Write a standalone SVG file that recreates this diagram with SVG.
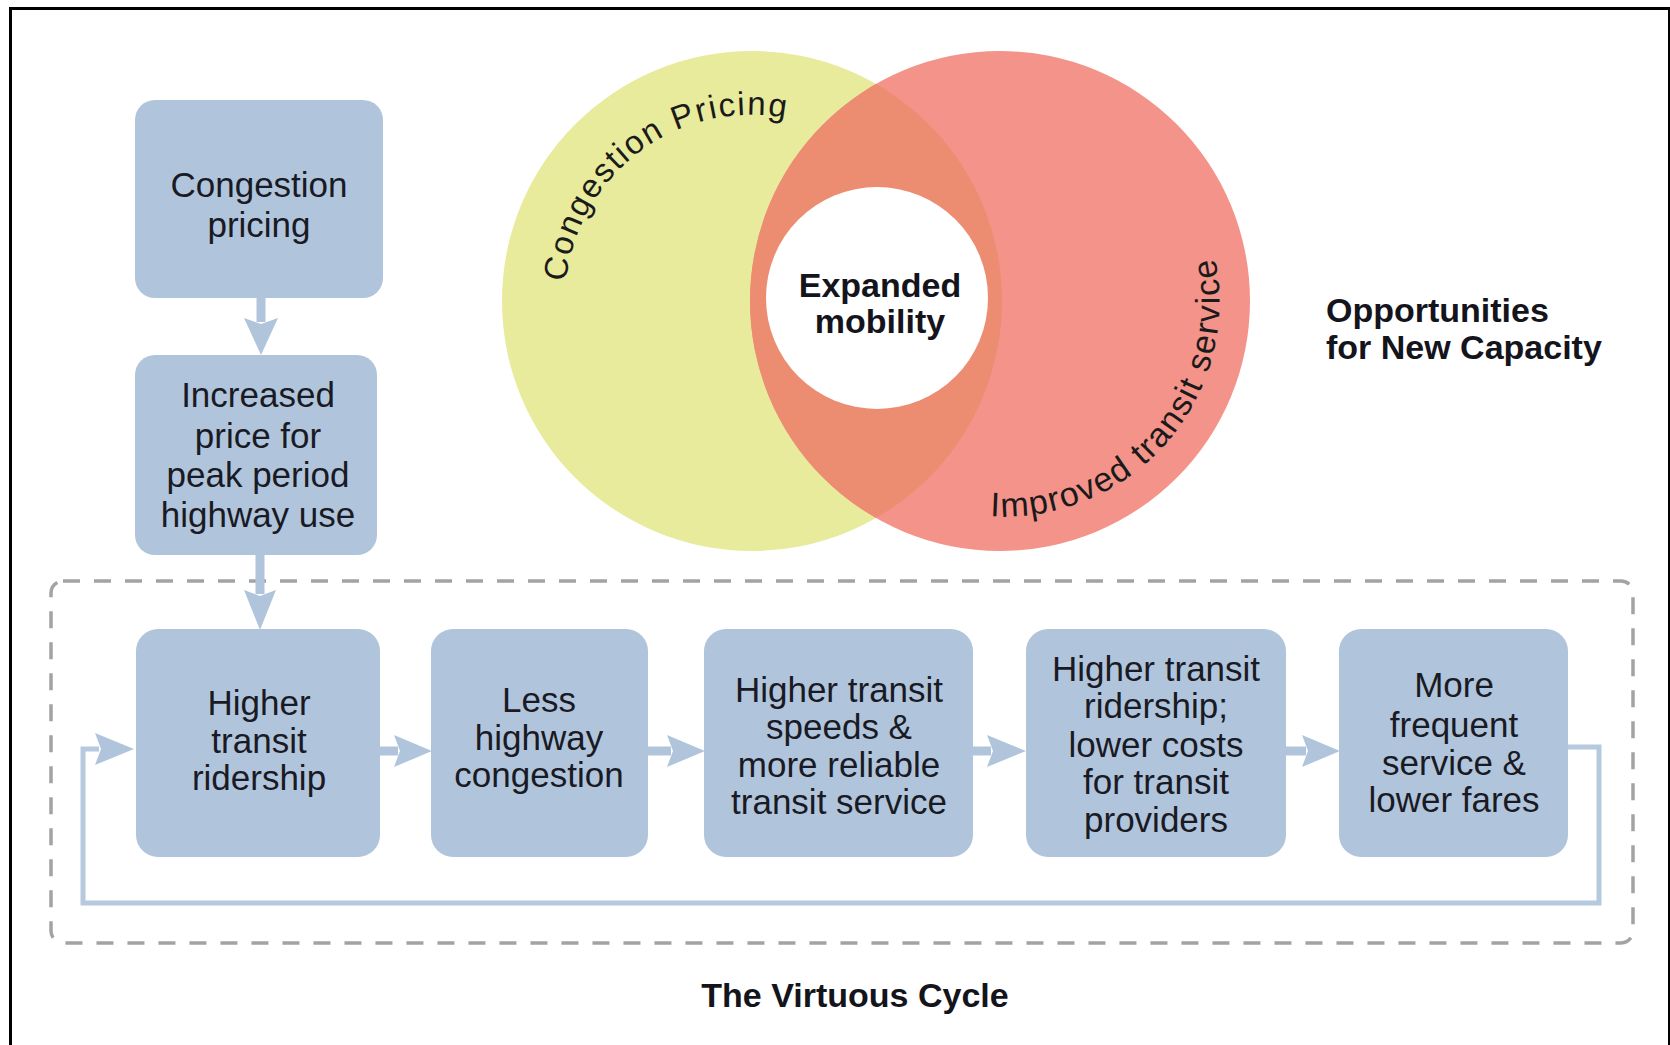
<svg xmlns="http://www.w3.org/2000/svg" xmlns:xlink="http://www.w3.org/1999/xlink" width="1670" height="1045" viewBox="0 0 1670 1045">
<style>
.box{fill:#b0c5dc}
.bt{font-family:"Liberation Sans",Arial,sans-serif;font-size:35px;fill:#1a1a24;text-anchor:middle}
.bold{font-family:"Liberation Sans",Arial,sans-serif;font-size:34px;font-weight:bold;fill:#14141c}
.arc{font-family:"Liberation Sans",Arial,sans-serif;font-size:33px;fill:#1a1a1a;letter-spacing:1.8px}
.arc2{font-family:"Liberation Sans",Arial,sans-serif;font-size:34px;fill:#1a1a1a;letter-spacing:1.5px}
.shaft{stroke:#b0c5dc;stroke-width:9;fill:none}
.head{fill:#b0c5dc}
.fb{stroke:#b6c9df;stroke-width:5;fill:none}
</style>
<defs>
<clipPath id="clipY"><circle cx="752" cy="301" r="250"/></clipPath>
<path id="arcCP" d="M566,282 A186,186 0 0 1 860,150"/>
<path id="arcIT" d="M990,516 A215,215 0 0 0 1212,245 A215,215 0 0 0 1170,170"/>
</defs>
<rect width="1670" height="1045" fill="#ffffff"/>
<g id="frame" stroke="#000" fill="none">
<line x1="10.5" y1="7" x2="10.5" y2="1045" stroke-width="3"/>
<line x1="9" y1="8.5" x2="1670" y2="8.5" stroke-width="3"/>
<line x1="1669" y1="7" x2="1669" y2="1045" stroke-width="2"/>
</g>
<g id="venn">
<circle cx="752" cy="301" r="250" fill="#e8ea9c"/>
<circle cx="1000" cy="301" r="250" fill="#f4938a"/>
<circle cx="1000" cy="301" r="250" fill="#ec8d72" clip-path="url(#clipY)"/>
<circle cx="877" cy="298" r="111" fill="#ffffff"/>
<text class="arc"><textPath xlink:href="#arcCP">Congestion Pricing</textPath></text>
<text class="arc2"><textPath xlink:href="#arcIT">Improved transit  service</textPath></text>
<text class="bold" x="880" y="297" text-anchor="middle">Expanded</text>
<text class="bold" x="880" y="333" text-anchor="middle">mobility</text>
</g>
<g id="label-opportunities">
<text class="bold" x="1326" y="322">Opportunities</text>
<text class="bold" x="1326" y="359">for New Capacity</text>
</g>
<g id="cycle-frame">
<rect x="51" y="581" width="1582" height="362" rx="12" fill="none" stroke="#a3a3a3" stroke-width="3.5" stroke-dasharray="17 14"/>
</g>
<g id="connectors">
<line class="shaft" x1="261" y1="298" x2="261" y2="322"/>
<path class="head" d="M244,318 L261,324 L278,318 L261,355 Z"/>
<line class="shaft" x1="260" y1="555" x2="260" y2="594"/>
<path class="head" d="M244,590 L260,596 L276,590 L260,630 Z"/>
<line class="shaft" x1="380" y1="751" x2="398" y2="751"/>
<path class="head" d="M394,735 L400,751 L394,767 L432,751 Z"/>
<line class="shaft" x1="648" y1="751" x2="671" y2="751"/>
<path class="head" d="M667,735 L673,751 L667,767 L705,751 Z"/>
<line class="shaft" x1="973" y1="751" x2="991" y2="751"/>
<path class="head" d="M987,735 L993,751 L987,767 L1026,751 Z"/>
<line class="shaft" x1="1286" y1="751" x2="1306" y2="751"/>
<path class="head" d="M1302,735 L1308,751 L1302,767 L1340,751 Z"/>
<polyline class="fb" points="1568,747 1599,747 1599,903 83,903 83,749 99,749"/>
<path class="head" d="M95,733 L101,749 L95,765 L134,749 Z"/>
</g>
<g id="node-congestion-pricing">
<rect class="box" x="135" y="100" width="248" height="198" rx="20"/>
<text class="bt" x="259" y="197">Congestion</text>
<text class="bt" x="259" y="237">pricing</text>
</g>
<g id="node-increased-price">
<rect class="box" x="135" y="355" width="242" height="200" rx="20"/>
<text class="bt" x="258" y="407">Increased</text>
<text class="bt" x="258" y="448">price for</text>
<text class="bt" x="258" y="487">peak period</text>
<text class="bt" x="258" y="527">highway use</text>
</g>
<g id="node-higher-ridership">
<rect class="box" x="136" y="629" width="244" height="228" rx="22"/>
<text class="bt" x="259" y="715">Higher</text>
<text class="bt" x="259" y="753">transit</text>
<text class="bt" x="259" y="790">ridership</text>
</g>
<g id="node-less-congestion">
<rect class="box" x="431" y="629" width="217" height="228" rx="22"/>
<text class="bt" x="539" y="712">Less</text>
<text class="bt" x="539" y="750">highway</text>
<text class="bt" x="539" y="787">congestion</text>
</g>
<g id="node-higher-speeds">
<rect class="box" x="704" y="629" width="269" height="228" rx="22"/>
<text class="bt" x="839" y="702">Higher transit</text>
<text class="bt" x="839" y="739">speeds &amp;</text>
<text class="bt" x="839" y="777">more reliable</text>
<text class="bt" x="839" y="814">transit service</text>
</g>
<g id="node-lower-costs">
<rect class="box" x="1026" y="629" width="260" height="228" rx="22"/>
<text class="bt" x="1156" y="681">Higher transit</text>
<text class="bt" x="1156" y="718">ridership;</text>
<text class="bt" x="1156" y="757">lower costs</text>
<text class="bt" x="1156" y="794">for transit</text>
<text class="bt" x="1156" y="832">providers</text>
</g>
<g id="node-more-frequent">
<rect class="box" x="1339" y="629" width="229" height="228" rx="22"/>
<text class="bt" x="1454" y="697">More</text>
<text class="bt" x="1454" y="737">frequent</text>
<text class="bt" x="1454" y="775">service &amp;</text>
<text class="bt" x="1454" y="812">lower fares</text>
</g>
<g id="label-virtuous-cycle">
<text class="bold" x="855" y="1007" text-anchor="middle">The Virtuous Cycle</text>
</g>
</svg>
